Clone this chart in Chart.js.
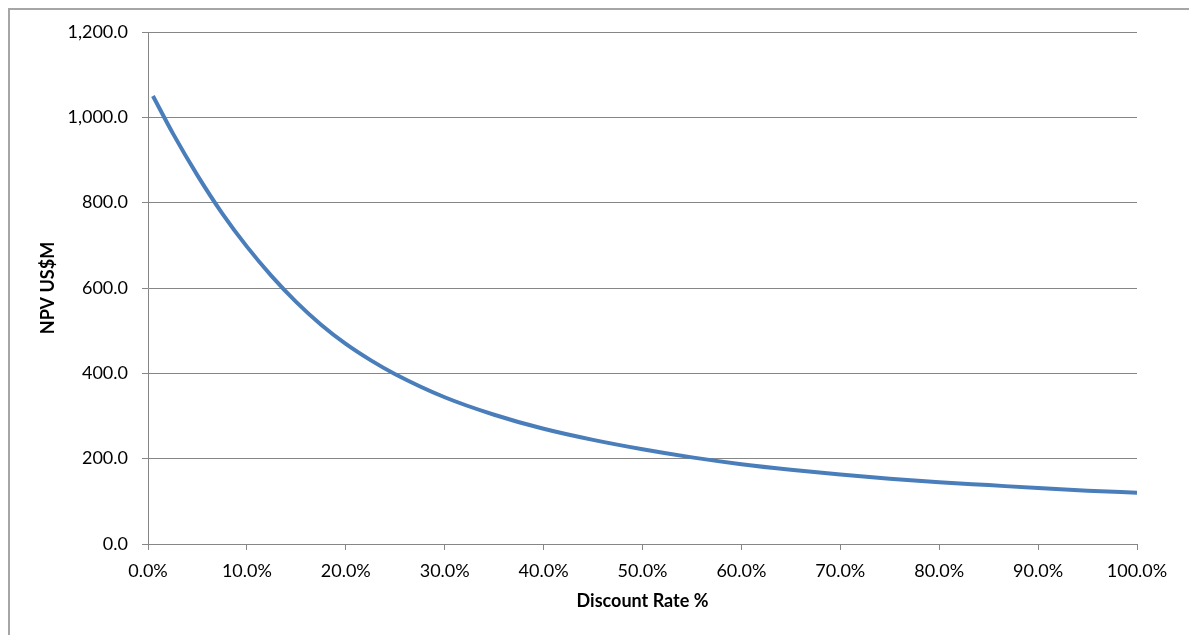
<!DOCTYPE html>
<html>
<head>
<meta charset="utf-8">
<script src="https://cdn.jsdelivr.net/npm/chart.js@4"></script>
<style>
  html, body { margin: 0; padding: 0; background: #fff; overflow: hidden; }
</style>
</head>
<body>
<canvas id="npv-graph" width="1189" height="635"></canvas>
<script>
// discount rate (%) and NPV (US$M)
var rates = [0.5, 2.5, 5, 7.5, 10, 12.5, 15, 17.5, 20, 22.5, 25, 30, 35, 40, 45, 50, 55, 60, 65, 70, 75, 80, 85, 90, 95, 100];
var npv   = [1050, 963, 864, 775, 697, 628, 567, 514, 469, 431, 398, 344, 303, 270, 244, 222, 203, 187, 174, 163, 153, 145, 138, 131, 125, 120];

var xTitle = 'Discount Rate %';
var yTitle = 'NPV US$M';

var points = rates.map(function(r, i) { return {x: r, y: npv[i]}; });

var gridColor = '#868686';
var tickFont = {family: 'Lato', size: 18};
var titleFont = {family: 'Lato', size: 18, weight: 'bold'};

// outer chart frame: only its top and left edges fall inside the picture
var framePlugin = {
    id: 'frame',
    beforeDraw: function(chart) {
        var c = chart.ctx;
        c.save();
        c.fillStyle = '#fff';
        c.fillRect(0, 0, chart.width, chart.height);
        c.strokeStyle = '#a6a6a6';
        c.lineWidth = 2;
        c.beginPath();
        c.moveTo(9, chart.height);
        c.lineTo(9, 9);
        c.lineTo(chart.width, 9);
        c.stroke();
        c.restore();
    }
};

var ctx = document.getElementById('npv-graph');
var npvChart = new Chart(ctx, {
    type: 'line',
    data: {
        datasets: [{
            label: 'NPV',
            data: points,
            borderColor: 'rgb(74, 126, 187)',
            backgroundColor: 'rgba(74, 126, 187, 0)',
            borderWidth: 4,
            pointRadius: 0,
            fill: false,
            cubicInterpolationMode: 'monotone'
        }]
    },
    plugins: [framePlugin],
    options: {
        responsive: false,
        animation: false,
        layout: { padding: {left: 0, right: 52, top: 32, bottom: 0} },
        plugins: { legend: {display: false}, tooltip: {enabled: false} },
        scales: {
            x: {
                type: 'linear',
                min: 0, max: 100,
                afterFit: function(s) { s.height = 91; },
                ticks: {
                    stepSize: 10,
                    color: '#000',
                    font: tickFont,
                    padding: 10,
                    maxRotation: 0,
                    callback: function(v) { return v.toFixed(1) + '%'; }
                },
                grid: { drawOnChartArea: false, drawTicks: true, tickLength: 6, color: gridColor },
                border: { display: true, color: gridColor, width: 1 },
                title: { display: true, text: xTitle, color: '#000', font: titleFont, padding: {top: 0, bottom: 23} }
            },
            y: {
                min: 0, max: 1200,
                afterFit: function(s) { s.width = 148; },
                ticks: {
                    stepSize: 200,
                    color: '#000',
                    font: tickFont,
                    padding: 14,
                    callback: function(v) {
                        return v.toLocaleString('en-US', {minimumFractionDigits: 1, maximumFractionDigits: 1});
                    }
                },
                grid: { drawTicks: true, tickLength: 6, color: gridColor, lineWidth: 1 },
                border: { display: true, color: gridColor, width: 1 },
                title: { display: true, text: yTitle, color: '#000', font: titleFont, padding: {top: 37, bottom: 0} }
            }
        }
    }
});
</script>
</body>
</html>
